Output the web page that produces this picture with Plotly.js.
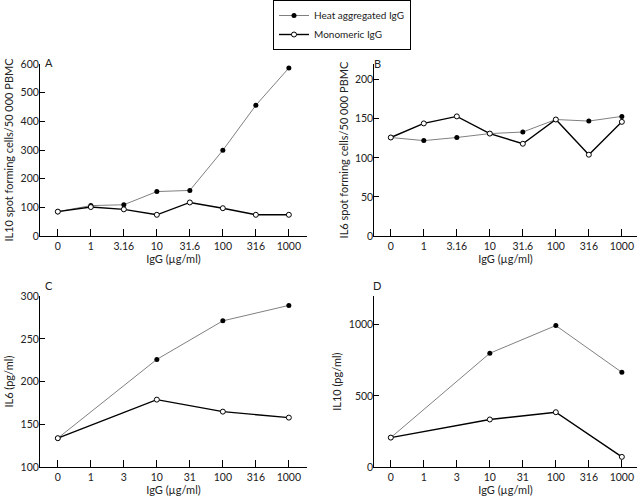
<!DOCTYPE html>
<html><head><meta charset="utf-8">
<script src="https://cdn.plot.ly/plotly-3.0.1.min.js"></script>
<style>html,body{margin:0;padding:0;background:#fff}#c{width:640px;height:497px}</style>
</head><body><div id="c"></div>
<script>
// Categories
const catsTop = ['0','1','3.16','10','31.6','100','316','1000'];
const catsBottom = ['0','1','3','10','31','100','316','1000'];
const xBottom = ['0','10','100','1000'];
// Panel A: IL10 spot forming cells
const aHeat = [85,106,109,155,159,299,456,586];
const aMono = [85,101,93,74,117,97,74,74];
// Panel B: IL6 spot forming cells
const bHeat = [126,122,126,131,133,149,147,153];
const bMono = [126,144,153,131,118,149,104,146];
// Panel C: IL6 pg/ml
const cHeat = [134,226,271,289];
const cMono = [134,179,165,158];
// Panel D: IL10 pg/ml
const dHeat = [208,799,993,665];
const dMono = [208,335,386,73];

const W=640,H=497;
const heatStyle = {mode:'lines+markers', line:{color:'#808080',width:1}, marker:{color:'#000',size:5,symbol:'circle'}};
const monoStyle = {mode:'lines+markers', line:{color:'#000',width:1.4}, marker:{color:'#fff',size:5,symbol:'circle',line:{color:'#000',width:1}}};

function tr(x,y,style,xa,ya,name,show){
  return Object.assign({x:x,y:y,xaxis:xa,yaxis:ya,name:name,showlegend:show,type:'scatter',cliponaxis:false},JSON.parse(JSON.stringify(style)));
}
const data = [
  tr(catsTop,aHeat,heatStyle,'x','y','Heat aggregated IgG',true),
  tr(catsTop,aMono,monoStyle,'x','y','Monomeric IgG',true),
  tr(catsTop,bHeat,heatStyle,'x2','y2','Heat aggregated IgG',false),
  tr(catsTop,bMono,monoStyle,'x2','y2','Monomeric IgG',false),
  tr(xBottom,cHeat,heatStyle,'x3','y3','Heat aggregated IgG',false),
  tr(xBottom,cMono,monoStyle,'x3','y3','Monomeric IgG',false),
  tr(xBottom,dHeat,heatStyle,'x4','y4','Heat aggregated IgG',false),
  tr(xBottom,dMono,monoStyle,'x4','y4','Monomeric IgG',false)
];
const font = {family:'Lato, "Open Sans", sans-serif', size:10.5, color:'#222'};
function xa(dom, cats, range, anchor){
  return {domain:[dom[0]/W,dom[1]/W], type:'category', categoryorder:'array', categoryarray:cats,
    range:range, anchor:anchor, showgrid:false, zeroline:false, showline:true, linecolor:'#000', linewidth:1,
    ticks:'inside', ticklen:7, tickcolor:'#000', tickwidth:1, tickfont:font,
    title:{text:'IgG (µg/ml)', font:{family:font.family,size:11,color:'#222'}, standoff:4}, fixedrange:true};
}
function ya(dom, range, dtick, title, anchor){
  return {domain:[1-dom[1]/H,1-dom[0]/H], range:range, dtick:dtick, tick0:0, anchor:anchor,
    showgrid:false, zeroline:false, showline:true, linecolor:'#000', linewidth:1,
    ticks:'inside', ticklen:5, tickcolor:'#000', tickwidth:1, tickfont:font, ticklabelstandoff:-2,
    title:{text:title, font:{family:font.family,size:11,color:'#222'}, standoff:4}, fixedrange:true};
}
function ann(t,px,py){return {text:t,x:px/W,y:1-py/H,xref:'paper',yref:'paper',showarrow:false,font:{family:font.family,size:11,color:'#222'}};}
const layout = {
  width:W,height:H,margin:{l:0,r:0,t:0,b:0},paper_bgcolor:'#fff',plot_bgcolor:'#fff',
  font:font,
  showlegend:true,
  legend:{x:273/W,y:1,xanchor:'left',yanchor:'top',bordercolor:'#000',borderwidth:1,bgcolor:'#fff',
    font:{family:font.family,size:10,color:'#222'},tracegroupgap:0,itemwidth:30},
  xaxis: xa([40,307], catsTop, [-0.54,7.55], 'y'),
  yaxis: ya([64,236], [0,600], 100, 'IL10 spot forming cells/50 000 PBMC', 'x'),
  xaxis2: xa([374.3,636.7], catsTop, [-0.5,7.45], 'y2'),
  yaxis2: ya([64,236], [0,220], 50, 'IL6 spot forming cells/50 000 PBMC', 'x2'),
  xaxis3: xa([40,307], catsBottom, [-0.54,7.55], 'y3'),
  yaxis3: ya([296,467.3], [100,300], 50, 'IL6 (pg/ml)', 'x3'),
  xaxis4: xa([374.3,636.7], catsBottom, [-0.5,7.45], 'y4'),
  yaxis4: ya([296,467.3], [0,1200], 500, 'IL10 (pg/ml)', 'x4'),
  annotations:[ann('A',43,54),ann('B',377,55),ann('C',43,285),ann('D',377,285)]
};
layout.yaxis4.tickvals=[0,500,1000];
Plotly.newPlot('c',data,layout,{staticPlot:true});
</script></body></html>
